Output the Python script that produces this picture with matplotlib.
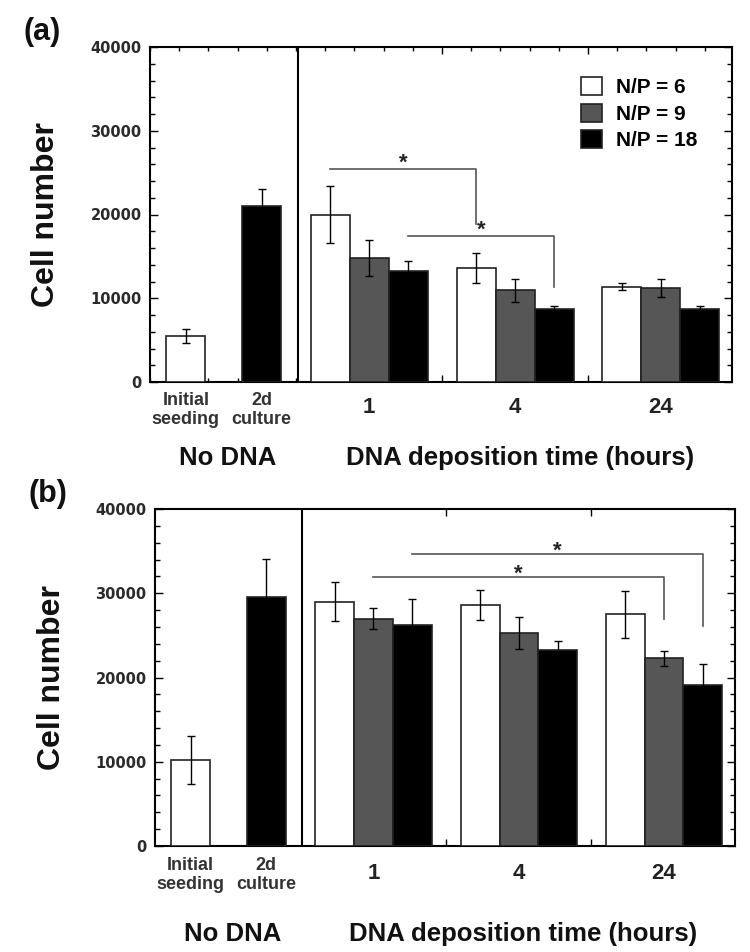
import numpy as np
import matplotlib
matplotlib.use("Agg")
import matplotlib.pyplot as plt
from matplotlib.ticker import MultipleLocator, FixedLocator

plt.rcParams['font.family'] = ['Liberation Sans', 'DejaVu Sans']

# ---- data ----
nodna_labels = ["Initial\nseeding", "2d\nculture"]
hours = ["1", "4", "24"]
series = ["N/P = 6", "N/P = 9", "N/P = 18"]

# panel (a)
a_nodna = [5500, 21000]
a_nodna_err = [850, 2000]
a_np6 = [20000, 13600, 11400]
a_np6_err = [3400, 1800, 450]
a_np9 = [14800, 10950, 11200]
a_np9_err = [2200, 1400, 1050]
a_np18 = [13200, 8700, 8700]
a_np18_err = [1300, 400, 400]

# panel (b)
b_nodna = [10200, 29500]
b_nodna_err = [2900, 4600]
b_np6 = [29000, 28600, 27500]
b_np6_err = [2300, 1800, 2800]
b_np9 = [27000, 25300, 22300]
b_np9_err = [1200, 1900, 900]
b_np18 = [26200, 23300, 19100]
b_np18_err = [3100, 1000, 2500]

# significance brackets: (series, from hour idx, to hour idx, line y, drop-to y, star y)
a_brackets = [(0, 0, 1, 25400, 18900, 26900),
              (2, 0, 1, 17400, 11350, 18900)]
b_brackets = [(1, 0, 2, 31950, 26900, 33100),
              (2, 0, 2, 34700, 26100, 35800)]

colors = ['white', '#565656', 'black']

# layout (bar width = 1 unit)
nodna_x = np.array([0.92, 2.87])
group_x = np.array([5.63, 9.38, 13.12])
divider_x = 3.80
offsets = [-1, 0, 1]


def draw_panel(ax, nodna, nodna_err, groups, group_errs, brackets,
               lab_top, num_base, title_base, letter, show_legend):
    ekw = dict(fmt='none', ecolor='black', elinewidth=1.0, capsize=3, capthick=1.0, zorder=4)

    ax.bar(nodna_x, nodna, width=1.0, color=['white', 'black'],
           edgecolor='#222222', linewidth=1.2, zorder=3)
    ax.errorbar(nodna_x, nodna, yerr=nodna_err, **ekw)

    for k, (vals, errs) in enumerate(zip(groups, group_errs)):
        xs = group_x + offsets[k]
        ax.bar(xs, vals, width=1.0, color=colors[k], edgecolor='#222222',
               linewidth=1.2, zorder=3, label=series[k])
        ax.errorbar(xs, vals, yerr=errs, **ekw)

    ax.axvline(divider_x, color='black', lw=1.5, zorder=5)

    # brackets
    for s, g0, g1, yl, yd, ys in brackets:
        x0 = group_x[g0] + offsets[s]
        x1 = group_x[g1] + offsets[s]
        ax.plot([x0, x1, x1], [yl, yl, yd], color='#555555', lw=1.2, zorder=5)
        ax.annotate('*', xy=((x0 + x1) / 2, ys), xytext=(0, -9),
                    textcoords='offset points', ha='center', va='baseline',
                    fontsize=16, fontweight='bold', color='#222222')

    ax.set_xlim(0, 14.95)
    ax.set_ylim(0, 40000)
    ax.yaxis.set_major_locator(MultipleLocator(10000))
    ax.yaxis.set_minor_locator(MultipleLocator(2000))
    ax.tick_params(axis='y', which='both', direction='in', left=True, right=True,
                   width=1.0, labelsize=10.5, labelcolor='#2a2a2a', pad=6)
    ax.tick_params(axis='y', which='major', length=6)
    ax.tick_params(axis='y', which='minor', length=3.5)
    for t in ax.get_yticklabels():
        t.set_family('DejaVu Sans')
        t.set_fontweight('bold')

    ax.xaxis.set_major_locator(FixedLocator([7.5, 11.25]))
    ax.set_xticklabels([])
    ax.tick_params(axis='x', which='both', direction='in', top=True, bottom=True, width=1.0)
    ax.tick_params(axis='x', which='major', length=5)
    ax.tick_params(axis='x', which='minor', length=3)

    for sp in ax.spines.values():
        sp.set_linewidth(1.5)

    # x category labels
    xy_coords = ('data', 'axes fraction')
    for x, lab in zip(nodna_x, nodna_labels):
        ax.annotate(lab, xy=(x, 0), xycoords=xy_coords, xytext=(0, lab_top),
                    textcoords='offset points', ha='center', va='top',
                    fontsize=13, fontweight='bold', color='#333333', linespacing=1.15)
    for x, lab in zip(group_x, hours):
        ax.annotate(lab, xy=(x, 0), xycoords=xy_coords, xytext=(0, num_base),
                    textcoords='offset points', ha='center', va='baseline',
                    fontsize=16, fontweight='bold', color='#222222')
    ax.annotate('No DNA', xy=(2.0, 0), xycoords=xy_coords, xytext=(0, title_base),
                textcoords='offset points', ha='center', va='baseline',
                fontsize=18.5, fontweight='bold', color='#111111')
    ax.annotate('DNA deposition time (hours)', xy=(9.5, 0), xycoords=xy_coords,
                xytext=(0, title_base), textcoords='offset points', ha='center',
                va='baseline', fontsize=18.5, fontweight='bold', color='#111111')

    ax.text(-0.178, 0.5, 'Cell number', transform=ax.transAxes, rotation=90,
            ha='center', va='center', fontsize=23, fontweight='bold', color='#111111')
    ax.text(-0.185, 1.045, letter, transform=ax.transAxes, ha='center', va='center',
            fontsize=22, fontweight='bold', color='#111111')

    if show_legend:
        ax.legend(loc='upper left', bbox_to_anchor=(0.7405, 0.91), frameon=False,
                  prop={'weight': 'bold', 'size': 15},
                  handlelength=1.0, handleheight=0.95, handletextpad=0.7,
                  labelspacing=0.3, borderpad=0, borderaxespad=0)


fig = plt.figure(figsize=(7.5, 9.52), dpi=100)
ax_a = fig.add_axes([150 / 750, 1 - 382 / 952, 582 / 750, 335 / 952])
ax_b = fig.add_axes([155 / 750, 1 - 846 / 952, 580 / 750, 337 / 952])

draw_panel(ax_a, a_nodna, a_nodna_err, [a_np6, a_np9, a_np18],
           [a_np6_err, a_np9_err, a_np18_err], a_brackets,
           lab_top=-7.0, num_base=-22.0, title_base=-59.8, letter='(a)', show_legend=True)
ax_a.xaxis.set_minor_locator(MultipleLocator(0.75))

draw_panel(ax_b, b_nodna, b_nodna_err, [b_np6, b_np9, b_np18],
           [b_np6_err, b_np9_err, b_np18_err], b_brackets,
           lab_top=-8.0, num_base=-24.0, title_base=-68.6, letter='(b)', show_legend=False)

fig.savefig('out.png', dpi=100, facecolor='white')
